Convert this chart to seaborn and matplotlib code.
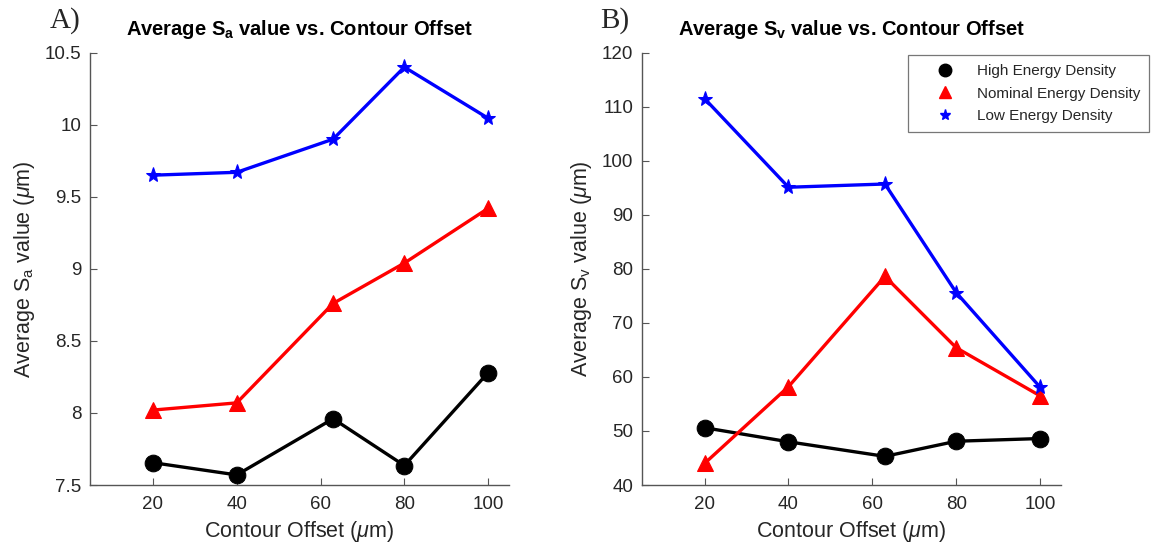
import matplotlib
matplotlib.use("Agg")
import matplotlib.pyplot as plt
from matplotlib.lines import Line2D
import seaborn as sns
import pandas as pd

# ---- data ----
offsets = [20, 40, 63, 80, 100]
series_names = ["High Energy Density", "Nominal Energy Density", "Low Energy Density"]

sa_high = [7.655, 7.57, 7.96, 7.635, 8.28]
sa_nominal = [8.02, 8.07, 8.76, 9.04, 9.42]
sa_low = [9.65, 9.67, 9.90, 10.40, 10.045]

sv_high = [50.6, 48.0, 45.3, 48.1, 48.6]
sv_nominal = [44.0, 58.2, 78.6, 65.4, 56.5]
sv_low = [111.5, 95.1, 95.7, 75.6, 58.1]

colors = ["#000000", "#ff0000", "#0000ff"]
markers = ["o", "^", "*"]
msizes = [12, 11.5, 11]

sns.set_theme(style="white")
plt.rcParams["font.family"] = ["Liberation Sans", "DejaVu Sans"]
plt.rcParams["mathtext.fontset"] = "custom"
plt.rcParams["mathtext.rm"] = "Liberation Sans"
plt.rcParams["mathtext.it"] = "Liberation Sans:italic"
plt.rcParams["mathtext.bf"] = "Liberation Sans:bold"
plt.rcParams["mathtext.sf"] = "Liberation Sans"

fig = plt.figure(figsize=(11.65, 5.46), dpi=100)
axA = fig.add_axes([0.0773, 0.1117, 0.3597, 0.7918])
axB = fig.add_axes([0.5508, 0.1117, 0.3600, 0.7918])


def make_df(vals):
    rows = []
    for name, v in zip(series_names, vals):
        for x, y in zip(offsets, v):
            rows.append({"offset": x, "value": y, "series": name})
    return pd.DataFrame(rows)


def draw(ax, vals, ylim, yticks, ylabel, title):
    df = make_df(vals)
    for name, c, m, ms in zip(series_names, colors, markers, msizes):
        sub = df[df["series"] == name]
        sns.lineplot(data=sub, x="offset", y="value", ax=ax, color=c,
                     marker=m, markersize=ms, markeredgecolor=c,
                     linewidth=2.4, legend=False, estimator=None, sort=False)
    ax.set_xlim(5, 105)
    ax.set_ylim(*ylim)
    ax.set_xticks([20, 40, 60, 80, 100])
    ax.set_yticks(yticks)
    ax.set_yticklabels([("%g" % t) for t in yticks])
    for s in ["top", "right"]:
        ax.spines[s].set_visible(False)
    for s in ["left", "bottom"]:
        ax.spines[s].set_color("#555555")
        ax.spines[s].set_linewidth(1.0)
    ax.tick_params(axis="both", direction="in", length=5, width=0.8,
                   color="#555555", labelsize=13.5, labelcolor="#262626",
                   left=True, bottom=True, pad=6)
    ax.tick_params(axis="x", pad=8)
    ax.set_xlabel(r"Contour Offset ($\mu$m)", fontsize=15.5, color="#262626", labelpad=4)
    ax.set_ylabel(ylabel, fontsize=15.5, color="#262626", labelpad=6)
    ax.set_title(title, fontsize=14.5, fontweight="bold", color="black", pad=13)


draw(axA, [sa_high, sa_nominal, sa_low], (7.5, 10.5),
     [7.5, 8, 8.5, 9, 9.5, 10, 10.5],
     r"Average S$_\mathregular{a}$ value ($\mu$m)",
     r"Average S$_\mathbf{a}$ value vs. Contour Offset")
draw(axB, [sv_high, sv_nominal, sv_low], (40, 120),
     [40, 50, 60, 70, 80, 90, 100, 110, 120],
     r"Average S$_\mathregular{v}$ value ($\mu$m)",
     r"Average S$_\mathbf{v}$ value vs. Contour Offset")

fig.text(0.043, 0.963, "A)", family="Liberation Serif", fontsize=21, va="center", ha="left")
fig.text(0.515, 0.963, "B)", family="Liberation Serif", fontsize=21, va="center", ha="left")

handles = [
    Line2D([], [], linestyle="none", marker="o", color="#000000", markersize=9),
    Line2D([], [], linestyle="none", marker="^", color="#ff0000", markersize=9),
    Line2D([], [], linestyle="none", marker="*", color="#0000ff", markersize=8),
]
leg = fig.legend(handles, series_names, loc="upper left",
                 bbox_to_anchor=(908 / 1165, 1 - 55 / 546),
                 frameon=True, fancybox=False, fontsize=11,
                 handlelength=3.6, handletextpad=0.3, borderpad=0.6,
                 labelspacing=0.55, borderaxespad=0)
leg.get_frame().set_edgecolor("#555555")
leg.get_frame().set_linewidth(0.9)
for t in leg.get_texts():
    t.set_color("#262626")

fig.savefig("out.png", dpi=100, facecolor="white")
